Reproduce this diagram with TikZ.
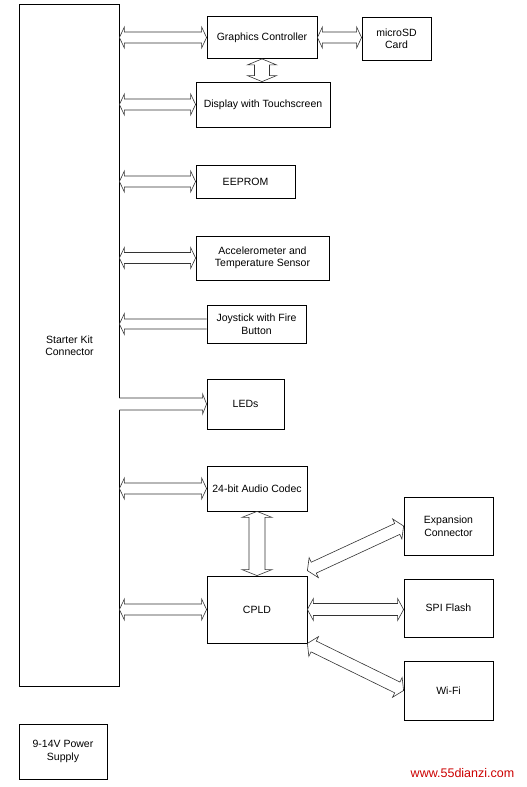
\documentclass[tikz,border=0pt]{standalone}
\usepackage{fontspec}
\setmainfont{Liberation Sans}
\usetikzlibrary{calc}

\newcommand{\busboth}[5]{%
  \coordinate (busp) at ($(#1)!#5!(#2)$);
  \coordinate (busq) at ($(#2)!#5!(#1)$);
  \draw[bus] (#1) -- ($(busp)!#4!90:(#2)$) -- ($(busp)!#3!90:(#2)$)
    -- ($(busq)!#3!90:(#2)$) -- ($(busq)!#4!90:(#2)$) -- (#2)
    -- ($(busq)!#4!-90:(#2)$) -- ($(busq)!#3!-90:(#2)$)
    -- ($(busp)!#3!-90:(#2)$) -- ($(busp)!#4!-90:(#2)$) -- cycle;}
\newcommand{\busone}[5]{%
  \coordinate (busq) at ($(#2)!#5!(#1)$);
  \draw[bus] ($(#1)!#3!90:(#2)$) -- ($(busq)!#3!90:(#2)$)
    -- ($(busq)!#4!90:(#2)$) -- (#2) -- ($(busq)!#4!-90:(#2)$)
    -- ($(busq)!#3!-90:(#2)$) -- ($(#1)!#3!-90:(#2)$);}

\begin{document}
\begin{tikzpicture}[x=1pt, y=-1pt,
  font=\fontsize{10.5}{12.5}\selectfont,
  block/.style={draw, line width=0.8pt, align=center, inner sep=0pt},
  bus/.style={draw=black!80, line width=0.6pt, line join=miter}]
  \useasboundingbox (0,0) rectangle (527,787);
  \node[block, minimum width=99pt, minimum height=681pt, draw=none] (conn) at (69.5,345.5) {Starter Kit\\Connector};
  \node[block, minimum width=110pt, minimum height=42pt] (gc) at (262,37.5) {Graphics Controller};
  \node[block, minimum width=69pt, minimum height=43pt] (sd) at (396.5,38.5) {microSD\\Card};
  \node[block, minimum width=134pt, minimum height=45pt] (disp) at (263,104.5) {Display with Touchscreen};
  \node[block, minimum width=99pt, minimum height=33pt] (eeprom) at (245.5,181.5) {EEPROM};
  \node[block, minimum width=133pt, minimum height=44pt] (accel) at (262.5,258) {Accelerometer and\\Temperature Sensor};
  \node[block, minimum width=99pt, minimum height=38pt] (joy) at (256.5,324) {Joystick with Fire\\Button};
  \node[block, minimum width=77pt, minimum height=50pt] (leds) at (245.5,404) {LEDs};
  \node[block, minimum width=100pt, minimum height=45pt] (codec) at (257,488.5) {24-bit Audio Codec};
  \node[block, minimum width=100pt, minimum height=67pt] (cpld) at (257,609.5) {CPLD};
  \node[block, minimum width=89pt, minimum height=58pt] (exp) at (448.5,526) {Expansion\\Connector};
  \node[block, minimum width=89pt, minimum height=58pt] (spi) at (448.5,608) {SPI Flash};
  \node[block, minimum width=89pt, minimum height=59pt] (wifi) at (448.5,690.5) {Wi-Fi};
  \node[block, minimum width=88pt, minimum height=55pt] (power) at (63,751.5) {9-14V Power\\Supply};
  \node[text=red!80!black, font=\fontsize{12.5}{14}\selectfont] (web) at (462.5,773) {www.55dianzi.com};

  \coordinate (gcbus) at (conn.east |- gc.west);
  \coordinate (sdbus) at (sd.west |- gc.east);
  \coordinate (dispbus) at (conn.east |- disp.west);
  \coordinate (eeprombus) at (conn.east |- eeprom.west);
  \coordinate (accelbus) at (conn.east |- accel.west);
  \coordinate (joybus) at (conn.east |- joy.west);
  \coordinate (ledsbus) at (conn.east |- leds.west);
  \coordinate (codecbus) at (conn.east |- codec.west);
  \coordinate (cpldbus) at (conn.east |- cpld.west);
  \coordinate (dispnorth) at (gc.south |- disp.north);
  \coordinate (expbus) at ([yshift=5pt]cpld.north east);
  \coordinate (spibus) at (spi.west |- cpld.east);

  \draw[line width=0.8pt] ($(ledsbus)!6pt!90:(leds.west)$) -- (conn.north east) -- (conn.north west)
    -- (conn.south west) -- (conn.south east) -- ($(ledsbus)!6pt!-90:(leds.west)$);
  \busboth{gcbus}{gc.west}{5.5pt}{10.5pt}{5pt}
  \busboth{gc.east}{sdbus}{5.5pt}{10.5pt}{5pt}
  \busboth{gc.south}{dispnorth}{7.5pt}{14.5pt}{6pt}
  \busboth{dispbus}{disp.west}{5.5pt}{10.5pt}{5pt}
  \busboth{eeprombus}{eeprom.west}{5.5pt}{10.5pt}{5pt}
  \busboth{accelbus}{accel.west}{5.5pt}{10.5pt}{5pt}
  \busone{joy.west}{joybus}{5pt}{10.5pt}{5pt}
  \busone{ledsbus}{leds.west}{6pt}{10pt}{4pt}
  \busboth{codecbus}{codec.west}{5.5pt}{10.5pt}{5pt}
  \busboth{codec.south}{cpld.north}{8pt}{15pt}{6pt}
  \busboth{cpldbus}{cpld.west}{5.5pt}{10.5pt}{5pt}
  \busboth{expbus}{exp.west}{6pt}{11pt}{7pt}
  \busboth{cpld.east}{spibus}{6pt}{11pt}{6pt}
  \busboth{cpld.south east}{wifi.west}{6pt}{11pt}{7pt}
\end{tikzpicture}
\end{document}
